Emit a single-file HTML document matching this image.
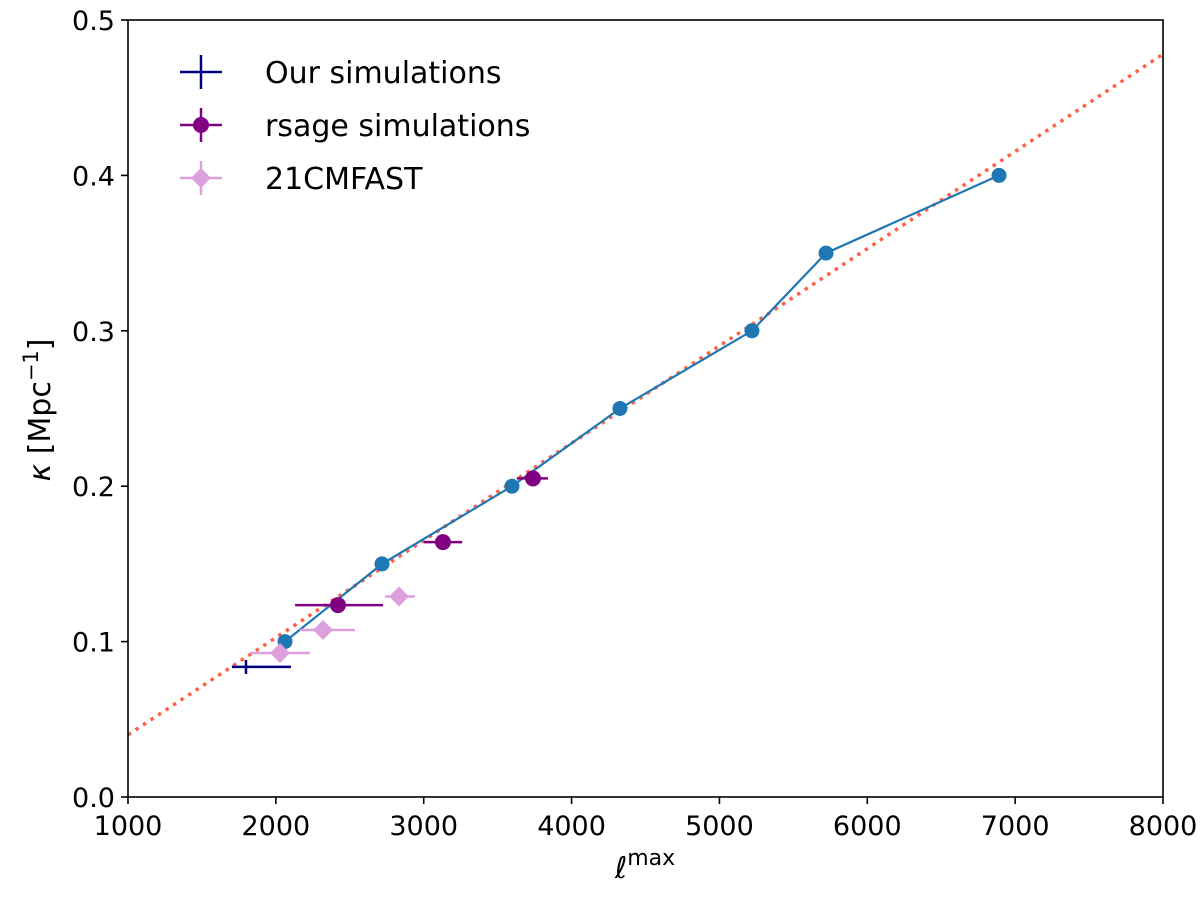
<!DOCTYPE html>
<html><head><meta charset="utf-8"><style>
body{margin:0;background:#fff}
svg text{font-family:"DejaVu Sans","Liberation Sans",sans-serif;fill:#000}
</style></head><body>
<svg id="chart" width="1200" height="896">
<g id="plot"></g>
</svg>
<script>
const blueX=[2062,2718,3597,4327,5220,5721,6891];
const blueY=[0.10,0.15,0.20,0.25,0.30,0.35,0.40];
const rsX=[2420,3130,3739];
const rsY=[0.1235,0.164,0.205];
const rsXlo=[2130,3000,3630];
const rsXhi=[2725,3260,3840];
const rsYerr=[0.002,0.003,0.005];
const ourX=[1798];
const ourY=[0.0837];
const ourXlo=[1703];
const ourXhi=[2102];
const cmX=[2028,2319,2833];
const cmY=[0.0927,0.1075,0.129];
const cmXlo=[1825,2163,2738];
const cmXhi=[2230,2535,2940];
const fitX=[1000,8000];
const fitY=[0.040,0.478];
const xTicks=[1000,2000,3000,4000,5000,6000,7000,8000];
const yTicks=[0.0,0.1,0.2,0.3,0.4,0.5];
const L=128,R=1163,T=20,B=797;
const sx=v=>L+(v-1000)/7000*(R-L);
const sy=v=>B-v/0.5*(B-T);
const NS="http://www.w3.org/2000/svg";
const g=document.getElementById('plot');
function mk(tag,a,parent){const e=document.createElementNS(NS,tag);for(const k in a)e.setAttribute(k,a[k]);(parent||g).appendChild(e);return e;}
let e=mk('line',{x1:sx(fitX[0]),y1:sy(fitY[0]),x2:sx(fitX[1]),y2:sy(fitY[1]),stroke:'#ff6347',"stroke-width":3.5,"stroke-dasharray":"3.5 5.5"});


e=mk('polyline',{points:blueX.map((x,i)=>sx(x)+','+sy(blueY[i])).join(' '),fill:'none',stroke:'#1f77b4',"stroke-width":2.2});


blueX.forEach((x,i)=>{const c=mk('circle',{cx:sx(x),cy:sy(blueY[i]),r:7.5,fill:'#1f77b4'});

});
cmX.forEach((x,i)=>{mk('line',{x1:sx(cmXlo[i]),x2:sx(cmXhi[i]),y1:sy(cmY[i]),y2:sy(cmY[i]),stroke:'#dda0dd',"stroke-width":2.5});
const y=sy(cmY[i]),c=sx(x);const d=mk('polygon',{points:`${c},${y-10} ${c+10},${y} ${c},${y+10} ${c-10},${y}`,fill:'#dda0dd'});

});
rsX.forEach((x,i)=>{mk('line',{x1:sx(rsXlo[i]),x2:sx(rsXhi[i]),y1:sy(rsY[i]),y2:sy(rsY[i]),stroke:'#800080',"stroke-width":2.5});
mk('line',{x1:sx(x),x2:sx(x),y1:sy(rsY[i]-rsYerr[i]),y2:sy(rsY[i]+rsYerr[i]),stroke:'#800080',"stroke-width":2.5});
const c=mk('circle',{cx:sx(x),cy:sy(rsY[i]),r:8,fill:'#800080'});

});
ourX.forEach((x,i)=>{mk('line',{x1:sx(ourXlo[i]),x2:sx(ourXhi[i]),y1:sy(ourY[i]),y2:sy(ourY[i]),stroke:'#000080',"stroke-width":2.5});
const m=mk('line',{x1:sx(x),x2:sx(x),y1:sy(ourY[i])-7,y2:sy(ourY[i])+7,stroke:'#000080',"stroke-width":2.5});

});
e=mk('rect',{x:L,y:T,width:R-L,height:B-T,fill:'none',stroke:'#000',"stroke-width":1.6});


xTicks.forEach(t=>{mk('line',{x1:sx(t),x2:sx(t),y1:B,y2:B+7,stroke:'#000',"stroke-width":1.6});
const tx=mk('text',{x:sx(t),y:B+38,"text-anchor":"middle","font-size":27});tx.textContent=t;

});
yTicks.forEach(t=>{mk('line',{x1:L-7,x2:L,y1:sy(t),y2:sy(t),stroke:'#000',"stroke-width":1.6});
const tx=mk('text',{x:L-13,y:sy(t)+10,"text-anchor":"end","font-size":27});tx.textContent=t.toFixed(1);

});
</script>
<svg width="1200" height="896" style="position:absolute;left:0;top:0">
<text x="645" y="878" text-anchor="middle" font-size="30"><tspan font-style="italic">ℓ</tspan><tspan dy="-13" font-size="22">max</tspan></text>
<text transform="translate(50,410) rotate(-90)" text-anchor="middle" font-size="30"><tspan font-style="italic">κ</tspan> [Mpc<tspan dy="-12" font-size="21">−1</tspan><tspan dy="12">]</tspan></text>
<g>
<line x1="180" x2="222" y1="72" y2="72" stroke="#000080" stroke-width="2.5"/><line x1="201" x2="201" y1="55" y2="89" stroke="#000080" stroke-width="2.5"/>
<text x="265" y="83" font-size="30">Our simulations</text>
<line x1="180" x2="222" y1="125" y2="125" stroke="#800080" stroke-width="2.5"/><line x1="201" x2="201" y1="108" y2="142" stroke="#800080" stroke-width="2.5"/><circle cx="201" cy="125" r="8" fill="#800080"/>
<text x="265" y="136" font-size="30">rsage simulations</text>
<line x1="180" x2="222" y1="178" y2="178" stroke="#dda0dd" stroke-width="2.5"/><line x1="201" x2="201" y1="161" y2="195" stroke="#dda0dd" stroke-width="2.5"/><polygon points="201,168 211,178 201,188 191,178" fill="#dda0dd"/>
<text x="265" y="189" font-size="30">21CMFAST</text>
</g>
</svg>
</body></html>
